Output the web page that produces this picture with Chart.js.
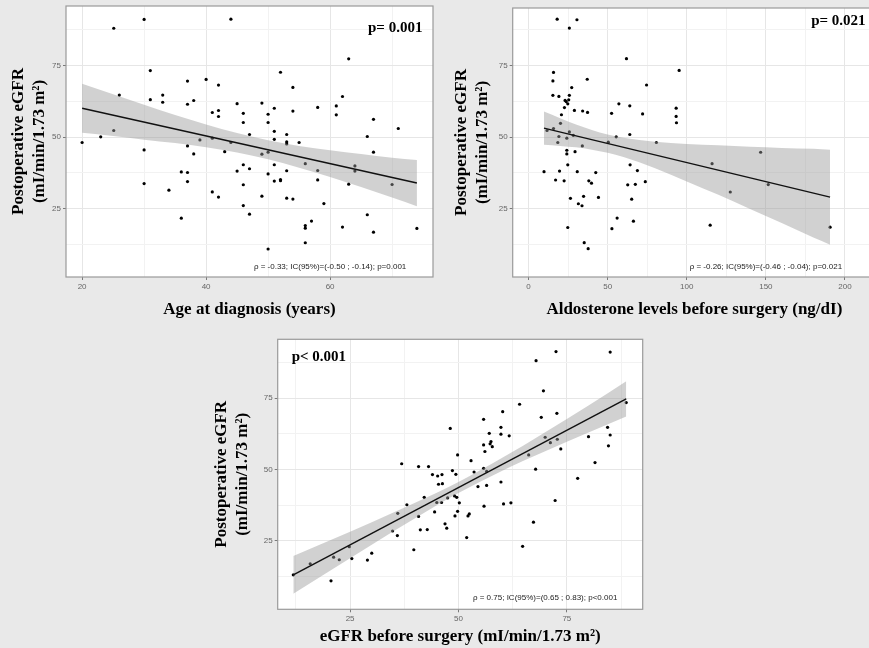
<!DOCTYPE html>
<html><head><meta charset="utf-8">
<script src="https://cdn.jsdelivr.net/npm/chart.js@4.4.1/dist/chart.umd.min.js"></script>
<style>
html,body{margin:0;padding:0;background:#e9e9e9;width:869px;height:648px;overflow:hidden;position:relative}
canvas{position:absolute}
</style></head><body>
<canvas id="c1" width="440" height="320" style="left:0;top:0"></canvas>
<canvas id="c2" width="440" height="320" style="left:440px;top:0"></canvas>
<canvas id="c3" width="450" height="318" style="left:200px;top:330px"></canvas>
<script>
// ---------- Panel 1: Age at diagnosis ----------
const ageX = [20,23,25.1,25.1,26,30,30,30,31,31,33,33,34,36,36,37,37,37,37,37,38,38,39,40,41,41,41,42,42,42,42,43,44,44,45,45,46,46,46,46,46,47,47,47,49,49,49,50,50,50,50,50,51,51,51,51,51,52,52,52,53,53,53,53,53,54,54,54,55,56,56,56,56,57,58,58,58,59,61,61,62,62,63,63,64,64,66,66,67,67,67,70,71,74];
const ageY = [48.1,50.1,88.1,52.3,64.7,91.2,45.5,33.7,73.3,63.1,64.7,62.2,31.4,37.8,21.6,69.6,61.5,46.9,37.6,34.4,62.8,44.1,49.0,70.2,58.6,49.6,30.8,68.2,59.3,57.2,29.0,44.9,91.3,48.1,61.7,38.1,58.3,55.1,40.3,33.3,26.0,50.9,38.9,23.0,61.9,44.0,29.3,58.0,55.1,44.7,37.1,10.8,60.1,52.0,49.2,40.3,34.6,72.7,35.1,34.7,50.9,48.3,47.6,38.2,28.6,67.4,59.1,28.3,48.1,40.7,19.0,18.1,13.0,20.6,60.4,38.3,35.0,26.7,60.9,57.8,64.2,18.5,77.4,33.5,39.9,38.1,50.2,22.8,56.2,44.7,16.7,33.4,53.0,18.0];
const ageFitX = [20, 74];
const ageFitY = [60.1, 33.9];
const ageBandX = [20,25,30,35,40,45,50,55,60,65,70,74];
const ageBandHi = [68.7,65.0,61.3,57.7,54.4,51.4,48.9,46.9,45.4,44.1,42.8,42.0];
const ageBandLo = [51.5,50.4,49.1,47.9,46.4,44.6,42.2,39.3,36.0,32.5,28.8,25.8];
const ageTicksX = [20,30,40,50,60,70];
const ageLabelsX = [20,40,60];

// ---------- Panel 2: Aldosterone ----------
const aldoX = [9.8,11.7,15.4,15.8,15.4,15.8,17.1,18.1,18.5,19.2,19.2,19.6,20.2,20.8,22.5,22.7,23.1,23.8,24.8,25.4,24.2,24.2,24.2,24.8,24.8,25.8,25.8,25.8,26.5,27.3,28.3,29.0,29.4,30.6,30.8,31.5,33.8,34.0,34.2,34.8,35.2,37.1,37.3,37.7,38.1,39.8,42.5,44.2,50.4,52.5,52.7,55.4,56.0,57.1,61.9,62.7,64.0,64.0,64.2,65.2,66.3,67.5,68.8,72.1,73.8,74.6,80.8,93.3,93.3,93.5,95.2,114.8,116.0,127.5,146.7,151.5,190.6];
const aldoY = [37.9,52.3,64.6,72.6,69.6,53.0,35.0,91.2,48.1,64.2,50.2,38.1,54.8,57.8,34.7,60.3,62.8,62.4,61.6,63.0,49.6,45.4,44.1,40.3,18.4,88.1,64.6,51.8,28.6,67.3,50.6,59.3,44.9,91.0,37.9,26.7,26.0,46.9,59.1,29.3,13.1,70.2,58.6,11.0,34.7,33.9,37.6,28.9,48.2,58.3,18.0,50.1,21.7,61.6,77.4,33.3,60.9,50.9,40.3,28.3,20.6,33.5,38.3,58.1,34.4,68.2,48.1,60.1,57.2,55.0,73.3,19.2,40.7,30.8,44.7,33.4,18.5];
const aldoFitX = [9.75, 190.6];
const aldoFitY = [53.1, 29.0];
const aldoBandX = [9.75,20,30,40,50,60,80,100,120,140,160,180,190.6];
const aldoBandHi = [58.9,56.6,54.4,52.5,50.9,49.8,48.4,47.6,47.1,46.6,46.2,45.9,45.6];
const aldoBandLo = [47.3,46.9,46.4,45.6,44.5,43.0,39.1,34.5,29.8,24.9,20.0,14.9,12.4];
const aldoTicksX = [0,25,50,75,100,125,150,175,200];
const aldoLabelsX = [0,50,100,150,200];

// ---------- Panel 3: eGFR before surgery ----------
const preX = [11.9,15.8,20.6,21.2,22.5,24.8,25.4,29.0,30.0,34.8,35.9,36.0,36.9,38.1,39.7,40.8,40.8,41.2,42.1,43.1,42.8,44.0,44.5,45.2,45.4,45.0,46.1,46.2,46.3,46.9,47.3,47.5,48.1,48.6,49.1,49.2,49.4,49.6,49.8,49.8,50.2,51.9,52.2,52.5,52.9,53.6,54.5,55.8,55.8,55.8,55.9,56.1,56.5,56.5,57.1,57.3,57.5,57.8,59.8,59.8,59.8,60.2,60.4,61.7,62.1,64.1,64.8,66.2,67.3,67.8,67.9,69.1,69.6,70.0,71.2,72.3,72.5,72.7,72.8,73.6,77.5,80.0,81.5,84.4,84.6,85.0,85.0,88.7];
const preY = [13.0,16.9,10.9,19.2,18.3,22.9,18.7,18.2,20.6,28.4,26.8,34.6,52.0,37.6,21.8,51.0,33.5,28.8,40.2,51.0,28.9,48.2,35.1,47.7,44.8,38.4,38.4,48.2,45.0,30.9,29.4,40.0,64.4,49.6,40.7,33.7,48.3,40.2,55.1,35.3,38.3,26.1,33.7,34.4,53.1,49.1,44.0,50.4,67.6,58.6,37.1,56.3,49.3,44.4,62.7,59.0,59.8,58.0,64.8,62.4,45.6,70.3,37.9,61.8,38.3,72.9,23.0,55.1,31.5,50.1,88.2,68.3,77.6,61.3,59.4,39.1,91.4,69.7,60.6,57.2,46.9,61.5,52.4,64.8,58.3,91.2,62.1,73.5];
const preFitX = [11.9, 88.7];
const preFitY = [13.0, 74.8];
const preBandX = [11.9,20,30,40,50,60,70,80,88.7];
const preBandHi = [19.6,24.9,31.5,38.3,45.6,54.0,63.1,72.5,81.0];
const preBandLo = [6.4,14.1,23.6,32.9,41.7,49.5,56.4,63.0,68.6];
const preTicksX = [12.5,25,37.5,50,62.5,75,87.5];
const preLabelsX = [25,50,75];

const yTicks = [12.5,25,37.5,50,62.5,75,87.5];
const yLabels = [25,50,75];

const yTitle = ['Postoperative eGFR', '(mI/min/1.73 m\u00B2)'];

const zip = (xs, ys) => xs.map((x, i) => ({x, y: ys[i]}));

const panelDeco = {
  id: 'panelDeco',
  beforeDraw(chart) {
    const {ctx, chartArea: a} = chart;
    ctx.save(); ctx.fillStyle = '#ffffff';
    ctx.fillRect(a.left, a.top, a.right - a.left, a.bottom - a.top);
    ctx.restore();
  },
  afterDraw(chart, args, opts) {
    const {ctx, chartArea: a, scales} = chart;
    ctx.save();
    ctx.strokeStyle = '#9a9a9a'; ctx.lineWidth = 1.2;
    ctx.strokeRect(a.left, a.top, a.right - a.left, a.bottom - a.top);
    (opts.notes || []).forEach(n => {
      ctx.font = n.font; ctx.fillStyle = n.color;
      ctx.textAlign = 'center'; ctx.textBaseline = 'middle';
      ctx.fillText(n.text, scales.x.getPixelForValue(n.x), scales.y.getPixelForValue(n.y));
    });
    ctx.restore();
  }
};

function makePanel(id, p) {
  const titleFont = {family: 'Liberation Serif', weight: 'bold', size: 17, lineHeight: '21px'};
  const tickFont = {family: 'Liberation Sans', size: 8};
  const gridColor = (labels) => (c) => (c.tick && labels.includes(c.tick.value)) ? '#e6e6e6' : '#f2f2f2';
  const tickColor = (labels) => (c) => (c.tick && labels.includes(c.tick.value)) ? '#7a7a7a' : 'rgba(0,0,0,0)';
  return new Chart(document.getElementById(id), {
    type: 'scatter',
    data: {
      datasets: [
        {type: 'line', data: zip(p.fitX, p.fitY), borderColor: '#111', borderWidth: 1.4, pointRadius: 0, fill: false},
        {type: 'line', data: zip(p.bandX, p.bandHi), borderColor: 'rgba(0,0,0,0)', borderWidth: 0, pointRadius: 0,
         fill: '+1', backgroundColor: 'rgba(153,153,153,0.45)', cubicInterpolationMode: 'monotone'},
        {type: 'line', data: zip(p.bandX, p.bandLo), borderColor: 'rgba(0,0,0,0)', borderWidth: 0, pointRadius: 0,
         fill: false, cubicInterpolationMode: 'monotone'},
        {type: 'scatter', data: zip(p.ptsX, p.ptsY), pointRadius: 1.6, backgroundColor: '#000', borderWidth: 0}
      ]
    },
    options: {
      responsive: false, animation: false, devicePixelRatio: 1, events: [],
      layout: {padding: p.pad},
      plugins: {legend: {display: false}, tooltip: {enabled: false}, panelDeco: {notes: p.notes}},
      scales: {
        x: {
          type: 'linear', min: p.xMin, max: p.xMax,
          afterBuildTicks: ax => { ax.ticks = p.xTicks.map(v => ({value: v})); },
          afterFit: s => { s.height = p.xH; s.paddingLeft = 0; s.paddingRight = 0; },
          ticks: {autoSkip: false, maxRotation: 0, padding: 2, color: '#666', font: tickFont,
                  callback: v => p.xLabels.includes(v) ? String(v) : ''},
          grid: {color: gridColor(p.xLabels), tickColor: tickColor(p.xLabels), tickLength: 3, lineWidth: 1},
          border: {display: false},
          title: {display: true, text: p.xTitle, color: '#000', font: titleFont, padding: {top: 0, bottom: p.xTitlePad}}
        },
        y: {
          type: 'linear', min: p.yMin, max: p.yMax,
          afterBuildTicks: ax => { ax.ticks = yTicks.map(v => ({value: v})); },
          afterFit: s => { s.width = p.yW; s.paddingTop = 0; s.paddingBottom = 0; },
          ticks: {autoSkip: false, padding: 2, color: '#666', font: tickFont,
                  callback: v => yLabels.includes(v) ? String(v) : ''},
          grid: {color: gridColor(yLabels), tickColor: tickColor(yLabels), tickLength: 3, lineWidth: 1},
          border: {display: false},
          title: {display: true, text: yTitle, color: '#000', font: titleFont, padding: {top: p.yTitlePad, bottom: 0}}
        }
      }
    },
    plugins: [panelDeco]
  });
}

const pFont = 'bold 15px "Liberation Serif"';
const rFont = '8px "Liberation Sans"';

makePanel('c1', {
  ptsX: ageX, ptsY: ageY, fitX: ageFitX, fitY: ageFitY, bandX: ageBandX, bandHi: ageBandHi, bandLo: ageBandLo,
  xMin: 17.4, xMax: 76.6, yMin: 1.0, yMax: 95.9, xTicks: ageTicksX, xLabels: ageLabelsX,
  pad: {left: 0, top: 6, right: 7, bottom: 0}, xH: 43, yW: 66, xTitlePad: 0, yTitlePad: 7.8,
  xTitle: 'Age at diagnosis (years)',
  notes: [
    {text: 'p= 0.001', x: 70.5, y: 88.3, font: pFont, color: '#000'},
    {text: '\u03C1 = -0.33; IC(95%)=(-0.50 ; -0.14); p=0.001', x: 60, y: 4.6, font: rFont, color: '#222'}
  ]
});

makePanel('c2', {
  ptsX: aldoX, ptsY: aldoY, fitX: aldoFitX, fitY: aldoFitY, bandX: aldoBandX, bandHi: aldoBandHi, bandLo: aldoBandLo,
  xMin: -10, xMax: 219.6, yMin: 1.1, yMax: 95.1, xTicks: aldoTicksX, xLabels: aldoLabelsX,
  pad: {left: 0, top: 8, right: 0, bottom: 0}, xH: 43, yW: 72.7, xTitlePad: 0, yTitlePad: 11.5,
  xTitle: 'Aldosterone levels before surgery (ng/dI)',
  notes: [
    {text: 'p= 0.021', x: 195.8, y: 90.6, font: pFont, color: '#000'},
    {text: '\u03C1 = -0.26; IC(95%)=(-0.46 ; -0.04); p=0.021', x: 150, y: 4.7, font: rFont, color: '#222'}
  ]
});

makePanel('c3', {
  ptsX: preX, ptsY: preY, fitX: preFitX, fitY: preFitY, bandX: preBandX, bandHi: preBandHi, bandLo: preBandLo,
  xMin: 8.3, xMax: 92.5, yMin: 0.9, yMax: 95.7, xTicks: preTicksX, xLabels: preLabelsX,
  pad: {left: 0, top: 9.3, right: 7.3, bottom: 0}, xH: 38.7, yW: 77.7, xTitlePad: 0.7, yTitlePad: 11.2,
  xTitle: 'eGFR before surgery (mI/min/1.73 m\u00B2)',
  notes: [
    {text: 'p< 0.001', x: 17.8, y: 89.6, font: pFont, color: '#000'},
    {text: '\u03C1 = 0.75; IC(95%)=(0.65 ; 0.83); p<0.001', x: 70, y: 5.0, font: rFont, color: '#222'}
  ]
});
</script>
</body></html>
